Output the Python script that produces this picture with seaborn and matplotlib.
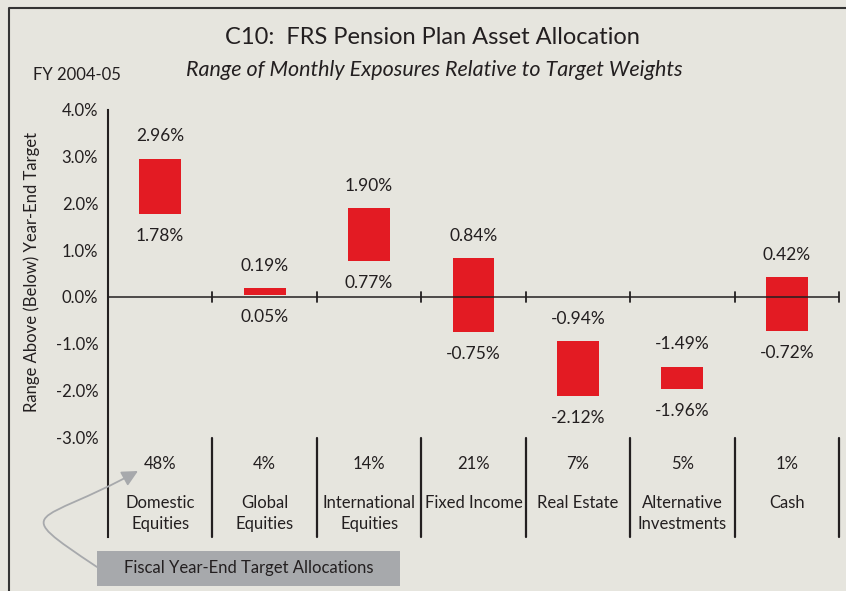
import numpy as np
import pandas as pd
import seaborn as sns
import matplotlib.pyplot as plt
from matplotlib.patches import Rectangle, FancyArrowPatch
from matplotlib.lines import Line2D
from matplotlib.path import Path

# данные графика
categories = ["Domestic\nEquities", "Global\nEquities", "International\nEquities",
              "Fixed Income", "Real Estate", "Alternative\nInvestments", "Cash"]
range_low = [1.78, 0.05, 0.77, -0.75, -2.12, -1.96, -0.72]
range_high = [2.96, 0.19, 1.90, 0.84, -0.94, -1.49, 0.42]
targets = ["48%", "4%", "14%", "21%", "7%", "5%", "1%"]
yticks = [-3, -2, -1, 0, 1, 2, 3, 4]

BG = "#E6E5DE"
RED = "#E31B23"
INK = "#231F20"
GREY = "#A7A9AC"

sns.set_style("white")
plt.rcParams["font.family"] = ["Lato", "DejaVu Sans"]
plt.rcParams["text.color"] = INK

df = pd.DataFrame({"category": categories, "low": range_low, "high": range_high})
df["span"] = df["high"] - df["low"]

W, H = 846, 591
fig = plt.figure(figsize=(W / 100, H / 100), dpi=100, facecolor=BG)
ax = fig.add_axes([108 / W, 1 - 537 / H, (839 - 108) / W, (537 - 110) / H])
ax.set_facecolor(BG)

# плавающие столбики: высота = диапазон, основание = минимум
sns.barplot(data=df, x="category", y="span", bottom=np.array(range_low),
            color=RED, saturation=1, width=0.4, errorbar=None, linewidth=0, ax=ax)

ymin = -5.134
ax.set_ylim(ymin, 4.0)
ax.set_xlim(-0.5, 6.5)

ax.set_yticks(yticks)
ax.set_yticklabels([f"{v:.1f}%" for v in yticks])
ax.tick_params(axis="y", direction="inout", length=7, width=1.3, pad=3.5,
               labelsize=12, colors=INK)
ax.set_xticks([])
ax.set_xlabel("")
ax.set_ylabel("Range Above (Below) Year-End Target", fontsize=12, color=INK, va="center")
ax.yaxis.set_label_coords(-0.104, 0.62)

for s in ["top", "right", "bottom"]:
    ax.spines[s].set_visible(False)
ax.spines["left"].set_linewidth(1.5)
ax.spines["left"].set_color(INK)

ax.axhline(0, color=INK, lw=1.1, zorder=1)
for b in np.arange(0.5, 7, 1):
    ax.plot([b, b], [-0.107, 0.107], color=INK, lw=1.3, clip_on=False)
    ax.plot([b, b], [-3.016, ymin], color=INK, lw=1.6, clip_on=False)

# подписи значений
for i, (lo, hi) in enumerate(zip(range_low, range_high)):
    ax.annotate(f"{hi:.2f}%", (i, hi), xytext=(0, 16), textcoords="offset points",
                ha="center", va="center", fontsize=12.5)
    ax.annotate(f"{lo:.2f}%", (i, lo), xytext=(0, -16), textcoords="offset points",
                ha="center", va="center", fontsize=12.5)

# целевые доли и названия классов активов
for i, (cat, tgt) in enumerate(zip(categories, targets)):
    ax.text(i, -3.572, tgt, ha="center", va="center", fontsize=12)
    for j, line in enumerate(cat.split("\n")):
        ax.text(i, -4.406 - j * 0.45, line, ha="center", va="center", fontsize=12)

# заголовки
fig.text(432 / W, 1 - 38 / H, "C10:  FRS Pension Plan Asset Allocation",
         ha="center", va="center", fontsize=17)
fig.text(434 / W, 1 - 70 / H, "Range of Monthly Exposures Relative to Target Weights",
         ha="center", va="center", fontsize=15.5, style="italic")
fig.text(33 / W, 1 - 75 / H, "FY 2004-05", ha="left", va="center", fontsize=12)

# рамка
fig.add_artist(Line2D([8.5 / W, 8.5 / W, 1], [0, 1 - 7.5 / H, 1 - 7.5 / H],
                      transform=fig.transFigure, color="#333333", lw=1.5))

# пояснение
fig.add_artist(Rectangle((97 / W, 1 - 586 / H), (400 - 97) / W, 35 / H,
                         transform=fig.transFigure, facecolor=GREY, edgecolor="none"))
fig.text(248.5 / W, 1 - 568 / H, "Fiscal Year-End Target Allocations",
         ha="center", va="center", fontsize=12)
pts = [(97, 567), (7, 507), (38, 526), (138, 471)]
path = Path([(x / W, 1 - y / H) for x, y in pts],
            [Path.MOVETO, Path.CURVE4, Path.CURVE4, Path.CURVE4])
fig.add_artist(FancyArrowPatch(path=path, arrowstyle="-|>", mutation_scale=24,
                               color=GREY, lw=1.3, transform=fig.transFigure))

plt.savefig("out.png", dpi=100, facecolor=BG)
